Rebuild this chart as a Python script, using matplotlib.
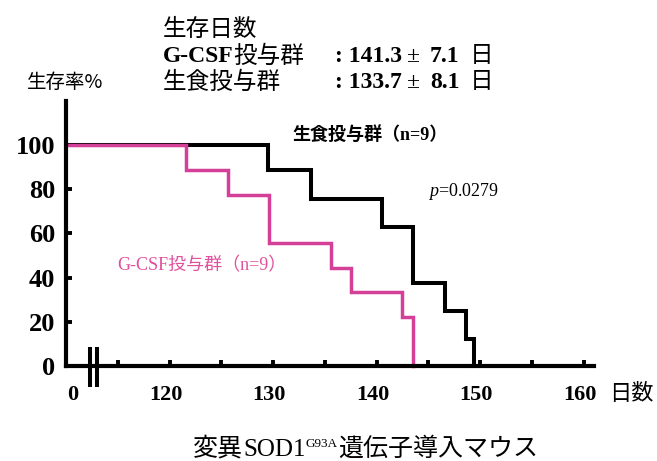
import matplotlib
matplotlib.use("Agg")
import matplotlib.pyplot as plt
from matplotlib.transforms import ScaledTranslation

# survival curves (days, % surviving after each death)
gcsf_days = [121.6, 125.6, 129.6, 135.6, 137.5, 142.5, 143.5]
gcsf_surv = [88.9, 77.6, 55.8, 44.5, 33.3, 22.2, 0]
saline_days = [129.5, 133.7, 140.5, 143.5, 146.6, 148.6, 149.4]
saline_surv = [88.9, 75.8, 63.1, 37.8, 24.8, 12.4, 0]
start_day = 110

yticks = [0, 20, 40, 60, 80, 100]
xtick_marks = [115, 120, 125, 130, 135, 140, 145, 150, 155, 160]
xtick_labels = ["120", "130", "140", "150", "160"]
xtick_vals = [120, 130, 140, 150, 160]

CJK = "Noto Sans CJK JP"
SERIF = "Liberation Serif"
PINK = "#d43f97"
PINK_TXT = "#e0509c"

plt.rcParams["mathtext.fontset"] = "custom"
plt.rcParams["mathtext.it"] = "Liberation Serif:italic"
plt.rcParams["mathtext.rm"] = "Liberation Serif"

W, H = 657, 461
fig = plt.figure(figsize=(W / 100, H / 100), dpi=100)
ax = fig.add_axes([66 / W, 1 - 366 / H, 528 / W, 265 / H])
ax.set_xlim(110, 161)
ax.set_ylim(0, 120)

ax.step([start_day] + saline_days, [100] + saline_surv, where="post",
        color="black", lw=2.9, solid_joinstyle="miter", clip_on=False, zorder=3)
ax.step([start_day] + gcsf_days, [100] + gcsf_surv, where="post",
        color=PINK, lw=2.5, solid_joinstyle="miter", clip_on=False, zorder=4)

for s in ["top", "right"]:
    ax.spines[s].set_visible(False)
for s in ["left", "bottom"]:
    ax.spines[s].set_linewidth(3)
    ax.spines[s].set_zorder(5)

# axis break
for bx in [112.3, 113.0]:
    ax.plot([bx, bx], [-9.5, 8.6], color="black", lw=2.9, clip_on=False,
            solid_capstyle="butt", zorder=6)

ax.set_yticks(yticks)
ax.set_yticklabels([str(v) for v in yticks], fontfamily=SERIF,
                   fontweight="bold", fontsize=19)
ax.tick_params(axis="y", direction="in", length=4.5, width=2.8, pad=8)

ax.xaxis.remove_overlapping_locs = False
ax.set_xticks(xtick_marks, minor=True)
ax.set_xticks([start_day] + xtick_vals)
ax.set_xticklabels(["0"] + xtick_labels, fontfamily=SERIF,
                   fontweight="bold", fontsize=16)
ax.tick_params(axis="x", which="minor", direction="in", length=4.5, width=2.8)
ax.tick_params(axis="x", which="major", length=0, pad=14)
for i, lab in enumerate(ax.get_xticklabels()):
    dx = 6.5 if i == 0 else -4
    lab.set_transform(lab.get_transform() + ScaledTranslation(dx / 100, 0, fig.dpi_scale_trans))


def put(x, y, s, **kw):
    return fig.text(x / W, 1 - y / H, s, va="center", ha=kw.pop("ha", "left"), **kw)


def put_row(x, y, pieces):
    # lay out pieces one after another, each (text, dy, kwargs)
    r = fig.canvas.get_renderer()
    for s, dy, kw in pieces:
        t = put(x, y + dy, s, **kw)
        x += t.get_window_extent(r).width


# header block
put(163, 29, "生存日数", fontfamily=CJK, fontsize=17)
put(163, 56, "G-CSF", fontfamily=SERIF, fontweight="bold", fontsize=17)
put(233, 56, "投与群", fontfamily=CJK, fontsize=17)
put(163, 82, "生食投与群", fontfamily=CJK, fontsize=17)
for y, m, sd in [(56, "141.3", "7.1"), (82, "133.7", "8.1")]:
    put(335, y, ": " + m, fontfamily=SERIF, fontweight="bold", fontsize=17)
    put(414, y, "±", fontfamily=SERIF, fontsize=17, ha="center")
    put(430, y, sd, fontfamily=SERIF, fontweight="bold", fontsize=17)
    put(470, y, "日", fontfamily=CJK, fontsize=17)

put(27, 82, "生存率%", fontfamily=CJK, fontsize=14)

put(292, 135, "生食投与群（n=9）", fontfamily=[SERIF, CJK], fontweight="bold", fontsize=13)
put(117, 266, "G-CSF投与群（n=9）", fontfamily=[SERIF, CJK], fontsize=13, color=PINK_TXT)
put(428, 191, "$p$=0.0279", fontfamily=SERIF, fontsize=13)

put(609, 393, "日数", fontfamily=CJK, fontsize=16)

# caption
put_row(193, 449, [
    ("変異", 0, dict(fontfamily=CJK, fontsize=18)),
    ("SOD1", 1, dict(fontfamily=SERIF, fontsize=18)),
    ("G93A", -5, dict(fontfamily=SERIF, fontsize=9.5)),
    ("遺伝子導入マウス", 0, dict(fontfamily=CJK, fontsize=18)),
])

fig.savefig("out.png", dpi=100)
